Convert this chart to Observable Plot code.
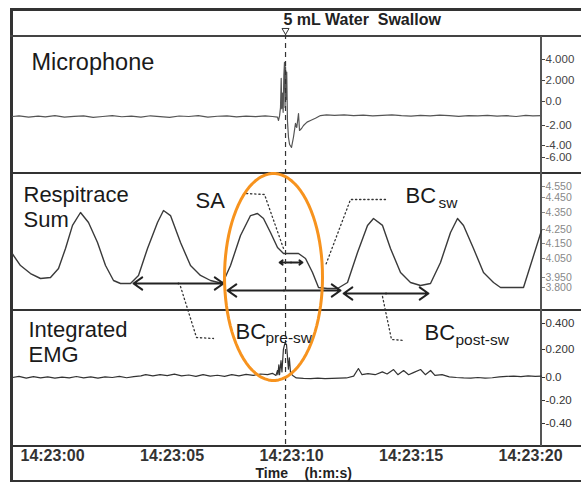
<!DOCTYPE html>
<html><head><meta charset="utf-8">
<script src="https://cdn.jsdelivr.net/npm/d3@7"></script>
<script src="https://cdn.jsdelivr.net/npm/@observablehq/plot@0.6"></script>
<style>
html,body{margin:0;padding:0;background:#fff;overflow:hidden;}
#fig{position:relative;width:581px;height:482px;overflow:hidden;background:#fff;}
#fig > *{position:absolute;}
</style></head><body><div id="fig"></div>
<script>
// ---------- data ----------
const timeDomain = [-1.674, 20.46];           // seconds after 14:23:00 shown in the window
const timeTicks = [0, 5, 10, 15, 20];
const timeLabels = ["14:23:00", "14:23:05", "14:23:10", "14:23:15", "14:23:20"];
const swallowTime = 9.75;

const micTicks = [4, 2, 0, -2, -4, -6];
const micLabels = ["4.000", "2.000", "0.0", "-2.00", "-4.00", "-6.00"];
const respTicks = [4.55, 4.45, 4.35, 4.25, 4.15, 4.05, 3.95, 3.80];
const respLabels = ["4.550", "4.450", "4.350", "4.250", "4.150", "4.050", "3.950", "3.800"];
const emgTicks = [0.4, 0.2, 0, -0.2, -0.4];
const emgLabels = ["0.400", "0.200", "0.0", "-0.20", "-0.40"];

const micTime = [-1.674,-1.4,-1.0,-0.6,-0.3,0.1,0.5,0.9,1.3,1.7,2.1,2.5,2.9,3.3,3.7,4.1,4.5,4.9,5.3,5.7,6.1,6.5,6.9,7.3,7.7,8.1,8.5,8.9,9.2,9.414,
  9.456,9.50,9.54,9.569,9.59,9.623,9.65,9.68,9.707,9.73,9.75,9.78,9.80,9.83,9.874,9.92,10.0,10.08,10.167,10.22,
  10.293,10.335,10.42,10.502,10.65,10.795,11.0,11.213,11.464,11.8,12.2,12.6,13.0,13.4,13.8,14.2,14.6,15.0,15.4,15.8,
  16.2,16.6,17.0,17.4,17.8,18.2,18.6,19.0,19.4,19.8,20.1,20.46];
const micValue = [-1.25,-1.2,-1.3,-1.22,-1.28,-1.18,-1.3,-1.24,-1.2,-1.32,-1.25,-1.17,-1.27,-1.22,-1.3,-1.19,-1.26,-1.33,-1.21,-1.25,-1.18,-1.3,-1.23,-1.2,-1.28,-1.22,-1.26,-1.2,-1.25,-1.3,
  -1.58,-1.2,-0.5,2.2,-0.6,0.8,-0.9,2.5,3.74,-0.5,3.3,0.2,2.8,-1.6,-3.2,-3.9,-4.33,-3.2,-1.83,-2.2,
  -1.0,-2.5,-2.3,-2.0,-1.72,-1.58,-1.4,-1.17,-1.12,-1.15,-1.12,-1.18,-1.14,-1.2,-1.15,-1.12,-1.18,-1.22,-1.15,-1.2,
  -1.13,-1.17,-1.24,-1.18,-1.2,-1.15,-1.22,-1.18,-1.25,-1.15,-1.2,-1.18];

const respTime = [-1.674,-1.339,-0.921,-0.502,-0.084,0.251,0.544,0.837,1.172,1.506,1.883,2.218,2.552,2.845,3.264,3.598,3.975,4.393,4.644,4.937,
  5.356,5.774,6.192,6.611,7.113,7.448,7.866,8.285,8.577,8.828,9.121,9.414,9.665,10.293,10.586,10.879,11.13,11.5,11.925,12.343,
  12.762,13.18,13.431,13.808,14.142,14.561,14.979,15.397,15.816,16.234,16.653,16.946,17.197,17.615,18.033,18.452,18.745,19.707,20.46];
const respValue = [4.08,4.013,3.971,3.935,3.95,3.997,4.117,4.274,4.35,4.291,4.157,4.013,3.905,3.86,3.86,3.961,4.117,4.291,4.363,4.332,
  4.157,4.013,3.961,3.905,3.86,4.013,4.207,4.332,4.344,4.315,4.229,4.123,4.083,4.083,4.05,3.976,3.80,3.785,3.785,3.875,
  4.09,4.274,4.315,4.274,4.117,3.976,3.875,3.83,3.86,4.029,4.229,4.315,4.274,4.117,3.976,3.875,3.80,3.80,4.243];

const emgTime = [-1.674,-1.4,-1.1,-0.8,-0.5,-0.2,0.1,0.4,0.7,1.0,1.3,1.6,1.9,2.2,2.5,2.8,3.1,3.4,3.7,3.9,4.2,4.5,4.8,5.1,5.4,5.7,6.0,6.3,6.6,6.9,
  7.2,7.5,7.8,8.1,8.4,8.7,9.0,9.2,9.35,9.414,9.43,9.47,9.50,9.56,9.60,9.66,9.72,9.79,9.83,9.87,9.91,9.96,10.08,10.2,10.5,10.8,11.1,11.4,11.7,12.0,
  12.3,12.6,12.8,12.95,13.2,13.5,13.8,14.0,14.27,14.45,14.69,14.9,15.1,15.4,15.6,15.82,16.0,16.3,16.6,16.9,17.2,17.5,17.8,18.1,18.4,18.7,19.0,19.3,19.6,19.9,20.2,20.46];
const emgValue = [0.0,0.008,-0.005,0.006,-0.004,0.004,-0.006,0.003,-0.004,0.007,-0.003,0.005,-0.006,0.004,0.0,0.008,-0.002,0.006,0.012,0.02,0.012,0.02,0.014,0.024,0.012,0.018,0.008,0.02,0.01,0.016,
  0.008,0.02,0.012,0.022,0.015,0.025,0.02,0.03,0.015,0.05,0.02,0.09,0.02,0.12,0.04,0.2,0.245,0.24,0.15,0.06,0.14,0.03,0.01,-0.004,-0.008,-0.01,-0.006,-0.01,-0.008,-0.006,
  -0.004,0.01,0.064,0.02,0.028,0.02,0.04,0.025,0.057,0.02,0.05,0.02,0.035,0.057,0.02,0.05,0.015,0.02,0.005,0.0,-0.004,-0.006,0.0,-0.005,-0.002,0.004,0.008,0.01,0.006,0.012,0.008,0.01];

// breath-cycle arrows (respitrace units)
const arrowStart = [3.389, 7.322, 12.18];
const arrowEnd = [7.155, 12.05, 15.73];
const arrowLevel = [3.86, 3.755, 3.71];
const saStart = [9.5], saEnd = [10.46], saLevel = [4.029];

// ---------- build ----------
const W = 581, H = 482;
const FONT = "'Liberation Sans', Arial, Helvetica, sans-serif";
const fig = document.getElementById("fig");
const zip = (ts, vs) => ts.map((t, i) => ({t, v: vs[i]}));

function rule(left, top, width, height, color) {
  const d = document.createElement("div");
  d.style.cssText = `left:${left}px;top:${top}px;width:${width}px;height:${height}px;background:${color}`;
  fig.append(d);
}
rule(10, 8, 571, 2.5, "#333");
rule(10, 8, 2.5, 474, "#333");
rule(10, 479.5, 571, 2.5, "#333");
rule(10, 35, 571, 2, "#444");
rule(10, 172, 571, 2, "#333");
rule(10, 309, 571, 2, "#333");
rule(10, 445, 571, 2, "#333");
rule(540, 36, 1.5, 410, "#555");

// The recorder's value axes are not evenly spaced: each panel's scale passes values through a
// piecewise map onto the printed tick positions (page pixels), then onto the panel.
function panel(top, height, ticks, tickRows, labels, color, size, marks) {
  const warp = d3.scaleLinear().domain(ticks).range(tickRows);
  const fmt = new Map(ticks.map((t, i) => [warp(t), labels[i]]));
  const p = Plot.plot({
    width: W, height, marginLeft: 12, marginRight: 40, marginTop: 0, marginBottom: 0,
    style: {background: "none", fontFamily: FONT, overflow: "visible"},
    x: {domain: timeDomain, axis: null},
    y: {transform: warp, domain: [top + height, top], range: [height, 0]},
    marks: [
      Plot.axisY({anchor: "right", ticks: ticks.map(warp), tickFormat: d => fmt.get(d), tickSize: 3, tickPadding: 1,
        fontSize: size, color, label: null}),
      ...marks
    ]
  });
  p.style.top = top + "px"; p.style.left = "0px";
  fig.append(p);
}

// Microphone
panel(36, 137, micTicks, [59, 80, 101, 125, 145, 157], micLabels, "#444", 11.5,
  [Plot.line(zip(micTime, micValue), {x: "t", y: "v", stroke: "#555", strokeWidth: 1.2})]);

// Respitrace sum
const arrows = arrowStart.flatMap((a, i) => {
  const m = (a + arrowEnd[i]) / 2;
  return [{x1: m, x2: a, y: arrowLevel[i]}, {x1: m, x2: arrowEnd[i], y: arrowLevel[i]}];
});
const saArrows = saStart.flatMap((a, i) => {
  const m = (a + saEnd[i]) / 2;
  return [{x1: m, x2: a, y: saLevel[i]}, {x1: m, x2: saEnd[i], y: saLevel[i]}];
});
panel(173, 137, respTicks, [186, 197, 212, 229, 243, 258, 277, 287], respLabels, "#888", 10.5,
  [
    Plot.line(zip(respTime, respValue), {x: "t", y: "v", stroke: "#3a3a3a", strokeWidth: 1.4}),
    Plot.arrow(arrows, {x1: "x1", x2: "x2", y1: "y", y2: "y", stroke: "#222", strokeWidth: 2, headLength: 8, headAngle: 70}),
    Plot.arrow(saArrows, {x1: "x1", x2: "x2", y1: "y", y2: "y", stroke: "#222", strokeWidth: 1.8, headLength: 6, headAngle: 70})
  ]);

// Integrated EMG
panel(310, 136, emgTicks, [323, 349, 377, 400, 423], emgLabels, "#333", 11.5,
  [Plot.line(zip(emgTime, emgValue), {x: "t", y: "v", stroke: "#333", strokeWidth: 1.2})]);

// ---------- overlay: time axis, swallow marker, annotations ----------
const timeFmt = new Map(timeTicks.map((t, i) => [t, timeLabels[i]]));
const ell = {t: 9.247, y: 276.5, rt: 2.05, ry: 103.5};
const ellipse = d3.range(0, 361, 4).map(a => ({
  t: ell.t + ell.rt * Math.cos(a * Math.PI / 180),
  y: ell.y + ell.ry * Math.sin(a * Math.PI / 180)
}));
const leaders = [
  ["SA", 8.117, 193], ["SA", 8.870, 194], ["SA", 9.665, 248],
  ["sw", 13.933, 199], ["sw", 12.469, 199], ["sw", 11.423, 265],
  ["pre", 5.356, 286], ["pre", 6.025, 337], ["pre", 6.736, 338],
  ["post", 13.808, 296], ["post", 14.184, 339], ["post", 14.728, 340]
].map(([id, t, y]) => ({id, t, y}));

const txt = (s, x, y, o = {}) => Plot.text([s], {text: d => d, frameAnchor: "top-left", dx: x - 12, dy: y,
  textAnchor: "start", lineAnchor: "middle", fill: "#1a1a1a", fontSize: 22, ...o});

const overlay = Plot.plot({
  width: W, height: H, marginLeft: 12, marginRight: 40, marginTop: 0, marginBottom: 36,
  style: {background: "none", fontFamily: FONT, overflow: "visible", pointerEvents: "none"},
  x: {domain: timeDomain},
  y: {domain: [0, H], range: [0, H], axis: null},
  marks: [
    Plot.axisX({anchor: "bottom", ticks: timeTicks, tickFormat: d => timeFmt.get(d), tickSize: 0, tickPadding: 3,
      fontSize: 16, fontWeight: "bold", color: "#333", label: null}),
    Plot.ruleX([swallowTime], {y1: 34, y2: 446, stroke: "#333", strokeWidth: 1.2, strokeDasharray: "5,4"}),
    Plot.dot([swallowTime], {x: d => d, y: 30, symbol: "triangle", rotate: 180, r: 2.6, stroke: "#333", fill: "white", strokeWidth: 1}),
    Plot.line(leaders, {x: "t", y: "y", z: "id", stroke: "#333", strokeWidth: 1.3, strokeDasharray: "1.3,2.8"}),
    Plot.line(ellipse, {x: "t", y: "y", stroke: "#F7931E", strokeWidth: 3}),
    txt("5 mL Water\u00a0 Swallow", 283, 19, {fontSize: 16, fontWeight: "bold", fill: "#222"}),
    txt("Microphone", 31, 62, {fontSize: 23.5}),
    txt("Respitrace", 23, 194),
    txt("Sum", 23, 219),
    txt("Integrated", 28, 329),
    txt("EMG", 28, 354),
    txt("SA", 195, 200),
    txt("BC", 405, 195),
    txt("sw", 438, 203, {fontSize: 15.5}),
    txt("BC", 235, 331),
    txt("pre-sw", 265, 338, {fontSize: 15.5}),
    txt("BC", 424, 332),
    txt("post-sw", 455, 340, {fontSize: 15.5}),
    txt("Time", 255, 473, {fontSize: 14, fontWeight: "bold", fill: "#222"}),
    txt("(h:m:s)", 304, 473, {fontSize: 14, fontWeight: "bold", fill: "#222"})
  ]
});
overlay.style.top = "0px"; overlay.style.left = "0px";
fig.append(overlay);
</script></body></html>
